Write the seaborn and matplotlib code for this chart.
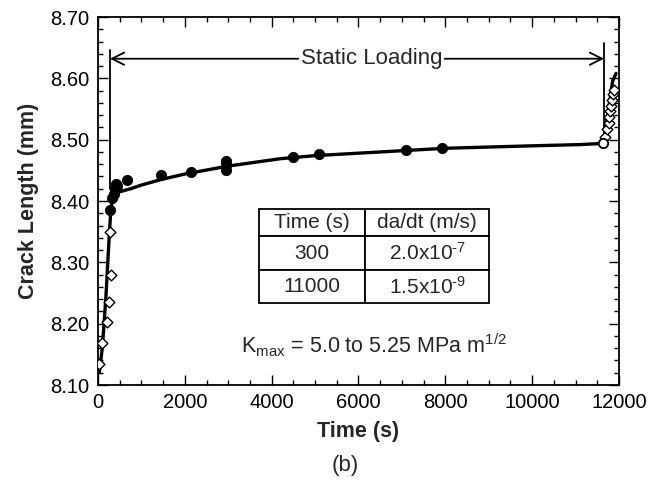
import numpy as np
import pandas as pd
import matplotlib
matplotlib.use("Agg")
import matplotlib.pyplot as plt
import seaborn as sns
from matplotlib.ticker import MultipleLocator

# ================================================================================
# Data
# ================================================================================
# fitted curve
fit_t = [30, 100, 180, 250, 300, 370, 500, 750, 1000, 1450, 2000, 3000, 4200,
         5000, 6000, 7000, 8000, 9000, 10000, 11100, 11640, 11700, 11780, 11850, 11930]
fit_a = [8.120, 8.160, 8.240, 8.330, 8.390, 8.410, 8.415, 8.420, 8.426, 8.435, 8.444,
         8.457, 8.469, 8.474, 8.478, 8.482, 8.486, 8.488, 8.490, 8.492, 8.494,
         8.520, 8.560, 8.595, 8.608]

# open diamonds, rising load
load_t = [30, 85, 200, 260, 292, 276]
load_a = [8.134, 8.168, 8.202, 8.236, 8.279, 8.349]

# filled circles, static loading
static_t = [276, 330, 360, 390, 420, 450, 660, 1450, 2150, 2950, 2950, 2950, 4500, 5100, 7090, 7930]
static_a = [8.385, 8.405, 8.412, 8.420, 8.428, 8.425, 8.434, 8.442, 8.447, 8.451, 8.458,
            8.465, 8.472, 8.476, 8.483, 8.487]

# open circle at end of hold
hold_t = [11640]
hold_a = [8.495]

# open diamonds, reloading
reload_t = [11682, 11720, 11758, 11774, 11797, 11820, 11836, 11859, 11873]
reload_a = [8.505, 8.517, 8.527, 8.537, 8.546, 8.555, 8.565, 8.574, 8.581]

# inset table
tab_time = ["Time (s)", "300", "11000"]
tab_rate = ["da/dt (m/s)", r"2.0x10$^{\text{-7}}$", r"1.5x10$^{\text{-9}}$"]

# ================================================================================
# Style
# ================================================================================
sns.set_style("ticks")
font = "Liberation Sans"
plt.rcParams["font.family"] = [font, "DejaVu Sans"]
plt.rcParams["mathtext.fontset"] = "custom"
plt.rcParams["mathtext.rm"] = font
plt.rcParams["mathtext.it"] = font
plt.rcParams["mathtext.bf"] = font + ":bold"

fig, ax = plt.subplots(figsize=(6.53, 4.93), dpi=100)
fig.subplots_adjust(left=0.150, right=0.948, top=0.9655, bottom=0.219)

# --------------------------------------------------------------------------------
# Curve and points
# --------------------------------------------------------------------------------
fit_df = pd.DataFrame({"t": fit_t, "a": fit_a})
sns.lineplot(data=fit_df, x="t", y="a", sort=False, color="black", lw=2.4, ax=ax)

sns.scatterplot(x=load_t, y=load_a, marker="D", s=30, facecolor="white",
                edgecolor="black", linewidth=1.0, ax=ax, zorder=3)
sns.scatterplot(x=reload_t, y=reload_a, marker="D", s=30, facecolor="white",
                edgecolor="black", linewidth=1.0, ax=ax, zorder=3)
sns.scatterplot(x=static_t, y=static_a, marker="o", s=55, color="black",
                edgecolor="black", ax=ax, zorder=3)
sns.scatterplot(x=hold_t, y=hold_a, marker="o", s=45, facecolor="white",
                edgecolor="black", linewidth=1.3, ax=ax, zorder=3)

# --------------------------------------------------------------------------------
# Static loading bracket
# --------------------------------------------------------------------------------
ax.plot([276, 276], [8.419, 8.647], color="black", lw=1.3)
ax.plot([11655, 11655], [8.495, 8.657], color="black", lw=1.3)
ax.annotate("", xy=(276, 8.632), xytext=(11655, 8.632),
            arrowprops=dict(arrowstyle="<->", lw=1.3, color="black",
                            mutation_scale=22, shrinkA=0, shrinkB=0))
ax.text(6300, 8.633, "Static Loading", ha="center", va="center", fontsize=16,
        bbox=dict(facecolor="white", edgecolor="none", pad=1))

# --------------------------------------------------------------------------------
# Inset table
# --------------------------------------------------------------------------------
cells = [[t, r] for t, r in zip(tab_time, tab_rate)]
tbl = ax.table(cellText=cells, cellLoc="center", colWidths=[0.46, 0.54],
               bbox=[0.3096, 0.222, 0.4415, 0.2575])
tbl.auto_set_font_size(False)
tbl.set_fontsize(15)
for (r, c), cell in tbl.get_celld().items():
    cell.set_linewidth(1.3)
    cell.set_edgecolor("black")
    cell.set_height(0.28 if r == 0 else 0.335)

ax.text(6359, 8.165, r"K$_{\mathregular{max}}$ = 5.0 to 5.25 MPa m$^{\mathregular{1/2}}$",
        ha="center", va="center", fontsize=15.5)

# --------------------------------------------------------------------------------
# Axes
# --------------------------------------------------------------------------------
ax.set_xlim(0, 12000)
ax.set_ylim(8.10, 8.70)
ax.xaxis.set_major_locator(MultipleLocator(2000))
ax.xaxis.set_minor_locator(MultipleLocator(500))
ax.yaxis.set_major_locator(MultipleLocator(0.1))
ax.yaxis.set_minor_locator(MultipleLocator(0.02))
ax.yaxis.set_major_formatter(matplotlib.ticker.FormatStrFormatter("%.2f"))
ax.tick_params(which="both", direction="in", top=True, right=True,
               labelsize=14.5, width=1.0, color="black", labelcolor="black")
ax.tick_params(which="major", length=7, pad=6)
ax.tick_params(which="minor", length=3.5)
for s in ax.spines.values():
    s.set_linewidth(1.3)
    s.set_color("black")

ax.set_xlabel("Time (s)", fontsize=15.5, fontweight="bold", labelpad=6)
ax.set_ylabel("Crack Length (mm)", fontsize=15.5, fontweight="bold", labelpad=8)
fig.text(0.528, 0.055, "(b)", ha="center", va="center", fontsize=16)

fig.savefig("out.png", dpi=100)
